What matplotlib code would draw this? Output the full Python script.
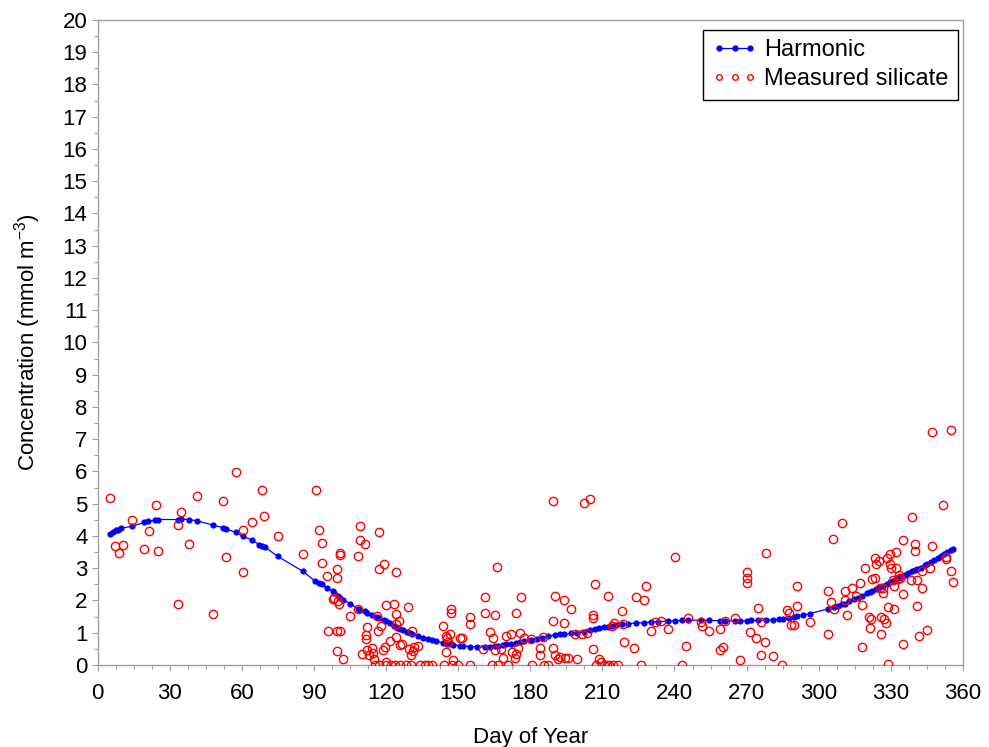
import numpy as np
import matplotlib
matplotlib.use('Agg')
import matplotlib.pyplot as plt
import matplotlib.ticker as ticker
from matplotlib.lines import Line2D

plt.rcParams['font.family'] = ['Liberation Sans', 'DejaVu Sans']

# harmonic fit
dia_harm = [5.2, 6.6, 7.5, 8.6, 9.8, 14.2, 19.5, 21.1, 23.9, 25.3, 33.6, 34.7, 38.2, 41.3, 47.9,
            52.0, 53.3, 57.4, 60.5, 64.1, 67.3, 68.3, 69.7, 74.9, 85.3, 90.5,
            92.0, 93.2, 95.3, 97.9, 98.5, 100.0, 100.8, 102.2, 105.0, 108.2, 109.3, 111.3, 112.3,
            114.0, 116.1, 117.2, 119.1, 120.2, 121.7, 123.4, 124.4, 125.8, 127.1, 128.6, 129.9, 130.9,
            133.4, 135.5, 137.5, 139.0, 141.0, 143.8, 145.3, 147.0, 148.0, 150.7, 152.2, 154.9, 158.0,
            161.2, 163.2, 165.2, 166.7, 168.5, 170.1, 172.0, 174.0, 175.6, 177.3, 180.2, 182.7, 184.7,
            187.5, 190.2, 192.4, 194.1, 197.1, 199.3, 202.3, 204.9, 206.9, 208.6, 210.5, 212.2, 213.8,
            215.8, 218.2, 220.5, 223.9, 227.2, 230.2, 233.0, 237.1, 240.1, 243.3, 245.6, 250.9, 254.3,
            258.8, 261.0, 265.0, 267.2, 270.3, 272.0, 274.8, 277.9, 281.0, 283.5, 285.2, 287.7, 289.7,
            291.0, 293.5, 296.2, 303.9, 306.2, 308.0, 309.7, 310.8, 312.5, 314.5, 316.4, 318.0, 320.0,
            321.2, 322.2, 323.7, 325.1, 326.7, 328.2, 329.5, 330.9, 332.1, 333.5, 335.0, 336.0, 337.1,
            338.8, 339.9, 341.0, 342.7, 344.0, 345.0, 346.8, 348.0, 349.5, 351.0, 352.3, 353.5, 354.9,
            355.9]
conc_harm = [4.07, 4.13, 4.17, 4.20, 4.24, 4.30, 4.42, 4.47, 4.48, 4.51, 4.51, 4.52, 4.51, 4.47, 4.34,
             4.26, 4.23, 4.11, 3.99, 3.88, 3.73, 3.69, 3.65, 3.37, 2.91, 2.60,
             2.55, 2.50, 2.40, 2.28, 2.24, 2.15, 2.09, 2.02, 1.90, 1.75, 1.72, 1.66, 1.62,
             1.56, 1.49, 1.45, 1.39, 1.35, 1.30, 1.22, 1.16, 1.12, 1.08, 1.03, 0.99, 0.95,
             0.89, 0.85, 0.80, 0.77, 0.73, 0.69, 0.66, 0.64, 0.62, 0.60, 0.59, 0.57, 0.56,
             0.56, 0.57, 0.58, 0.60, 0.62, 0.64, 0.66, 0.69, 0.71, 0.74, 0.78, 0.82, 0.85,
             0.89, 0.93, 0.95, 0.96, 0.98, 1.00, 1.02, 1.08, 1.13, 1.16, 1.18, 1.19, 1.20,
             1.23, 1.26, 1.28, 1.30, 1.31, 1.33, 1.34, 1.36, 1.37, 1.38, 1.39, 1.39, 1.38,
             1.37, 1.37, 1.36, 1.36, 1.37, 1.38, 1.38, 1.39, 1.40, 1.42, 1.44, 1.47, 1.50,
             1.51, 1.55, 1.59, 1.74, 1.80, 1.84, 1.88, 1.90, 1.97, 2.04, 2.09, 2.15, 2.22,
             2.27, 2.30, 2.36, 2.41, 2.45, 2.51, 2.56, 2.61, 2.66, 2.71, 2.77, 2.80, 2.84,
             2.90, 2.93, 2.97, 3.02, 3.09, 3.13, 3.19, 3.26, 3.32, 3.38, 3.43, 3.50, 3.55,
             3.59]

# measured silicate
dia_med = [5.2, 7.3, 9.0, 10.4, 14.2, 19.5, 21.5, 24.2, 25.3, 33.6, 33.6, 34.6, 38.2, 41.4, 48.1,
           52.0, 53.3, 57.4, 60.7, 60.7, 64.1, 68.3, 69.4, 74.9, 85.3, 90.9,
           92.1, 93.2, 93.2, 95.3, 95.9, 97.9, 98.5, 99.5, 99.5, 100.0, 100.3, 99.5, 101.0, 99.5,
           100.8, 100.8, 102.2, 105.2, 108.2, 108.2, 109.3, 109.3, 111.3, 111.5, 111.5, 112.3, 110.1,
           112.1, 113.1, 114.0, 114.6, 114.9, 115.4, 116.1, 116.8, 117.1, 117.1, 117.2, 117.9, 119.1,
           118.7, 119.5, 119.9, 120.2, 120.0, 121.9, 121.7, 123.4, 123.8, 124.1, 124.1, 124.1, 124.1,
           125.4, 125.9, 125.8, 126.5, 128.3, 129.3, 129.4, 130.2, 130.4, 130.9, 131.2, 131.6, 133.4,
           134.3, 136.3, 137.5, 139.0, 144.0, 143.8, 144.8, 145.3, 145.6, 145.0, 146.5, 147.0, 147.0,
           147.9, 147.5, 150.1, 150.7, 151.5, 154.9, 154.9, 154.8,
           161.2, 161.2, 160.2, 163.2, 164.3, 164.2, 165.2, 166.0, 165.4, 166.6, 168.0, 168.5, 170.1,
           170.6, 172.0, 172.6, 173.6, 174.2, 174.0, 175.0, 175.6, 176.3, 177.3, 180.2, 180.9, 184.0,
           184.0, 185.7, 187.5, 185.4, 189.3, 189.3, 189.5, 190.2, 190.3, 191.4, 192.4, 194.0, 194.1,
           194.4, 195.9, 197.1, 198.6, 199.3, 201.5, 202.3, 203.4, 204.9, 205.9, 205.9, 205.9, 206.9,
           207.5, 208.6, 209.6, 210.5, 211.8, 212.2, 212.9, 213.8, 214.7, 214.5, 216.4, 218.2,
           218.6, 218.9, 223.2, 223.9, 226.0, 227.2, 228.0, 230.2, 231.8, 234.5, 237.1, 240.1, 243.3,
           244.6, 245.6, 250.9, 251.6, 254.3, 258.8, 258.8, 260.3, 261.0, 265.0, 267.2, 270.3, 270.3,
           270.3, 271.6, 273.8, 274.8, 276.0, 275.9, 277.8, 278.0, 281.0, 284.9, 286.6, 287.7, 288.6,
           289.7, 291.0, 291.0, 296.3,
           303.9, 304.0, 304.9, 306.0, 306.2, 309.7, 310.8, 310.8, 311.9, 313.8, 315.7, 317.1, 317.8,
           318.0, 319.1, 320.8, 321.2, 321.9, 322.2, 323.3, 323.3, 323.7, 325.1, 325.4, 325.7, 325.7,
           326.7, 326.7, 327.0, 328.1, 328.2, 328.8, 328.8, 329.5, 329.8, 330.1, 330.9, 331.2, 331.2,
           332.0, 332.3, 332.9, 333.2, 333.7, 335.1, 335.1, 335.1, 338.5, 338.8, 339.9, 339.9, 340.9,
           340.9, 341.7, 343.0, 343.0, 345.0, 346.2, 347.1, 347.1, 351.7, 352.9, 352.9, 355.0, 354.9,
           355.8]
conc_med = [5.19, 3.69, 3.48, 3.72, 4.50, 3.61, 4.15, 4.97, 3.53, 1.90, 4.34, 4.73, 3.76, 5.24, 1.59,
            5.09, 3.34, 5.97, 4.20, 2.87, 4.42, 5.43, 4.62, 3.99, 3.45, 5.43,
            4.19, 3.77, 3.17, 2.76, 1.05, 2.05, 2.09, 2.97, 2.71, 1.98, 1.90, 1.05, 1.05, 0.43,
            3.48, 3.41, 0.19, 1.52, 1.75, 3.37, 4.31, 3.89, 3.76, 0.93, 0.80, 1.18, 0.33,
            0.45, 0.30, 0.53, 0.38, 0.20, 0.00, 1.52, 1.05, 4.12, 2.99, 0.00, 1.21, 3.12,
            0.45, 0.55, 0.10, 1.86, 0.00, 0.00, 0.73, 1.90, 0.00, 2.89, 1.57, 1.26, 0.87,
            1.36, 0.00, 0.62, 0.65, 0.00, 1.80, 0.50, 0.00, 0.30, 1.05, 0.42, 0.55, 0.59,
            0.00, 0.00, 0.00, 0.00, 0.00, 1.21, 0.90, 0.85, 0.72, 0.40, 0.95, 1.73, 1.62,
            0.15, 0.00, 0.00, 0.85, 0.85, 1.49, 1.28, 0.00,
            2.11, 1.62, 0.49, 1.03, 0.85, 0.00, 1.55, 3.04, 0.45, 0.00, 0.50, 0.23, 0.90,
            0.00, 0.95, 0.40, 0.23, 1.62, 0.33, 0.54, 1.00, 2.11, 0.85, 0.80, 0.00, 0.53,
            0.31, 0.00, 0.00, 0.87, 5.08, 0.53, 1.36, 2.14, 0.30, 0.20, 0.25, 2.02, 1.31,
            0.22, 0.22, 1.75, 0.95, 0.20, 0.97, 5.03, 1.00, 5.16, 1.55, 1.45, 0.49, 2.52,
            0.00, 0.20, 0.10, 0.00, 0.00, 2.14, 0.00, 1.21, 1.31, 0.00, 0.00, 1.67,
            1.28, 0.71, 0.54, 2.11, 0.00, 2.00, 2.45, 1.05, 1.33, 1.36, 1.13, 3.34, 0.00,
            0.59, 1.45, 1.33, 1.21, 1.05, 1.13, 0.46, 0.56, 1.36, 1.45, 0.16, 2.88, 2.70,
            2.53, 1.01, 0.83, 1.78, 1.33, 0.31, 0.70, 3.46, 0.27, 0.00, 1.70, 1.60, 1.24,
            1.24, 2.45, 1.83, 1.32,
            2.29, 0.95, 1.95, 3.92, 1.73, 4.41, 2.29, 2.02, 1.55, 2.40, 2.14, 2.53, 0.56,
            1.86, 3.02, 1.49, 1.14, 1.42, 2.68, 2.71, 3.33, 3.12, 3.22, 2.38, 1.49, 0.97,
            2.38, 2.24, 1.42, 1.31, 3.31, 1.80, 0.02, 3.12, 3.45, 3.00, 2.63, 2.45, 1.73,
            3.50, 3.00, 2.66, 2.79, 2.69, 3.88, 2.21, 0.64, 2.63, 4.59, 3.76, 3.53, 2.63,
            1.83, 0.90, 2.38, 2.91, 1.09, 3.02, 3.69, 7.21, 4.96, 3.35, 3.30, 2.91, 7.29,
            2.57]

cinza = '#a0a0a0'

fig = plt.figure(figsize=(9.89, 7.47), dpi=100)
# eixo: x de 97.5 a 963 px, y de 665 a 20 px
ax = fig.add_axes([0.0986, 0.1098, 0.8751, 0.8635])

ax.plot(dia_harm, conc_harm, color='#0000ff', linewidth=0.9, marker='o',
        markersize=4.5, markeredgewidth=0, zorder=2)
ax.plot(dia_med, conc_med, linestyle='none', marker='o', markersize=6,
        markerfacecolor='none', markeredgecolor='#ff0000', markeredgewidth=1.0, zorder=3)

ax.set_xlim(0, 360)
ax.set_ylim(0, 20)
ax.xaxis.set_major_locator(ticker.MultipleLocator(30))
ax.xaxis.set_minor_locator(ticker.MultipleLocator(7.5))
ax.yaxis.set_major_locator(ticker.MultipleLocator(1))
ax.yaxis.set_minor_locator(ticker.MultipleLocator(0.5))
ax.tick_params(which='both', direction='out', color=cinza, labelsize=16, labelcolor='black')
ax.tick_params(which='major', length=4.3, width=0.8)
ax.tick_params(which='minor', length=3, width=0.8)
ax.tick_params(axis='x', which='major', pad=9)
ax.tick_params(axis='y', which='major', pad=3)
for lado in ax.spines.values():
    lado.set_color(cinza)
    lado.set_linewidth(1.0)

ax.set_xlabel('Day of Year', fontsize=16, labelpad=16)
ax.set_ylabel(r'Concentration (mmol m$^{\mathregular{-3}}$)', fontsize=16, labelpad=14)

alca_harm = Line2D([], [], color='#0000ff', linewidth=0.9, marker='o', markersize=4.5,
                   markeredgewidth=0)
alca_med = Line2D([], [], linestyle='none', marker='o', markersize=4,
                  markerfacecolor='none', markeredgecolor='#ff0000', markeredgewidth=1.0)
leg = ax.legend([alca_harm, alca_med], ['Harmonic', 'Measured silicate'],
                loc='upper right', bbox_to_anchor=(0.9942, 0.9845), borderaxespad=0,
                fontsize=17, numpoints=3, handlelength=1.9, handletextpad=0.3,
                fancybox=False, framealpha=1, edgecolor='black', borderpad=0.4,
                labelspacing=0.3)
leg.get_frame().set_linewidth(1.0)

plt.savefig('out.png', dpi=100)
